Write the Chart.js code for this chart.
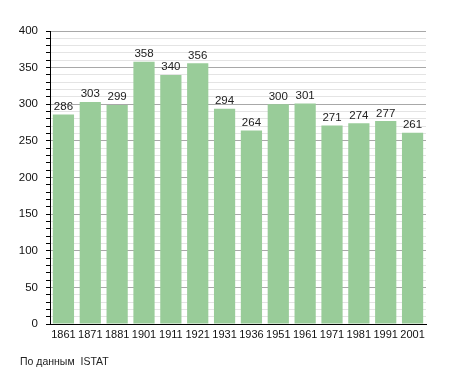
<!DOCTYPE html>
<html>
<head>
<meta charset="utf-8">
<script src="https://cdn.jsdelivr.net/npm/chart.js@4.4.1/dist/chart.umd.min.js"></script>
<style>
  html, body { margin: 0; padding: 0; background: #ffffff; }
  #wrap { width: 455px; height: 373px; position: relative; }
</style>
</head>
<body>
<div id="wrap"><canvas id="chart"></canvas></div>
<script>
const years = ["1861", "1871", "1881", "1901", "1911", "1921", "1931", "1936", "1951", "1961", "1971", "1981", "1991", "2001"];
const population = [286, 303, 299, 358, 340, 356, 294, 264, 300, 301, 271, 274, 277, 261];
const yMax = 400;
const sourceNote = "По данным  ISTAT";

const FONT = "'Liberation Sans', Arial, sans-serif";

// numbers above the bars
const barLabels = {
  id: "barLabels",
  afterDatasetsDraw(chart) {
    const ctx = chart.ctx;
    const meta = chart.getDatasetMeta(0);
    ctx.save();
    ctx.font = "11.5px " + FONT;
    ctx.fillStyle = "#222222";
    ctx.textAlign = "center";
    ctx.textBaseline = "bottom";
    meta.data.forEach((bar, i) => {
      ctx.fillText(String(population[i]), bar.x, bar.y - 2);
    });
    ctx.restore();
  },
};

// source line under the chart
const footer = {
  id: "footer",
  afterDraw(chart) {
    const ctx = chart.ctx;
    ctx.save();
    ctx.font = "10.5px " + FONT;
    ctx.fillStyle = "#222222";
    ctx.textAlign = "left";
    ctx.textBaseline = "middle";
    ctx.fillText(sourceNote, 20, 362);
    ctx.restore();
  },
};

new Chart(document.getElementById("chart"), {
  type: "bar",
  data: {
    labels: years,
    datasets: [
      {
        data: population,
        backgroundColor: "#99cc99",
        borderWidth: 0,
        barPercentage: 0.79,
        categoryPercentage: 1.0,
      },
    ],
  },
  options: {
    responsive: true,
    maintainAspectRatio: false,
    animation: false,
    layout: { padding: { top: 31, right: 29, left: 0, bottom: 0 } },
    plugins: {
      legend: { display: false },
      tooltip: { enabled: false },
    },
    scales: {
      x: {
        grid: { display: false, drawTicks: false },
        border: { color: "#000000", width: 1 },
        ticks: {
          color: "#111111",
          font: { family: FONT, size: 11 },
          padding: 4,
          maxRotation: 0,
          autoSkip: false,
        },
        afterFit(scale) {
          scale.height = 49;
        },
      },
      y: {
        min: 0,
        max: yMax,
        border: { color: "#000000", width: 1 },
        grid: {
          color: (c) => (c.tick && c.tick.value % 50 === 0 ? "#a8a8a8" : "#e4e4e4"),
          tickColor: "#000000",
          tickLength: 4,
        },
        ticks: {
          stepSize: 10,
          autoSkip: false,
          color: "#111111",
          font: { family: FONT, size: 11.5 },
          padding: 8,
          callback: (v) => (v % 50 === 0 ? v : ""),
        },
        afterFit(scale) {
          scale.width = 50;
        },
      },
    },
  },
  plugins: [barLabels, footer],
});
</script>
</body>
</html>
